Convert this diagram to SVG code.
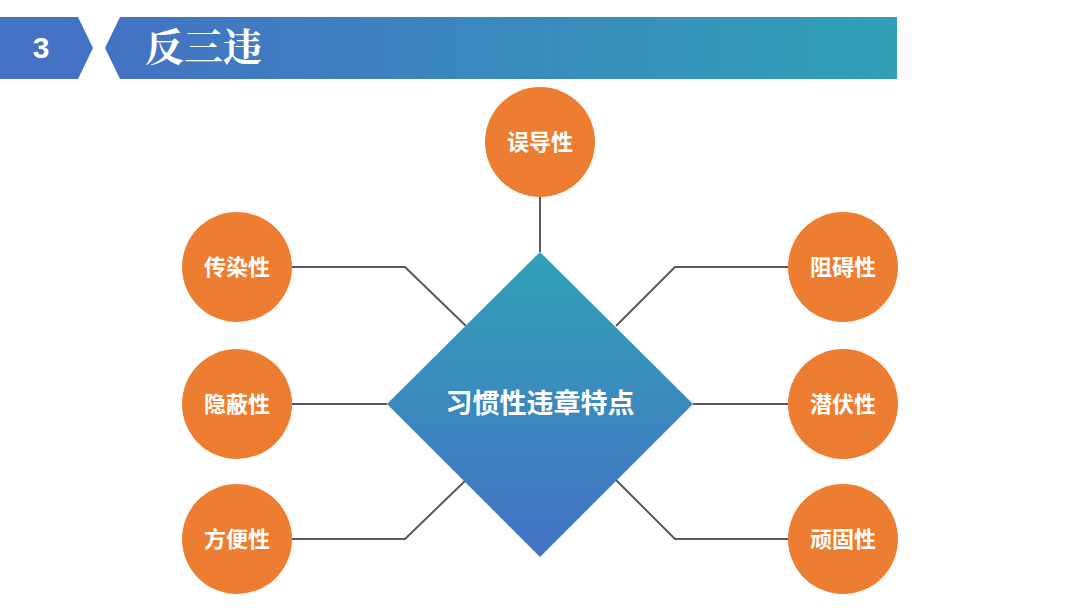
<svg xmlns="http://www.w3.org/2000/svg" width="1080" height="608" viewBox="0 0 1080 608">
<defs>
<linearGradient id="banner" x1="0" y1="0" x2="1" y2="0">
<stop offset="0" stop-color="#4472C4"/>
<stop offset="1" stop-color="#30A0B6"/>
</linearGradient>
<linearGradient id="dia" x1="0" y1="0" x2="0" y2="1">
<stop offset="0" stop-color="#31A1B7"/>
<stop offset="1" stop-color="#4472C4"/>
</linearGradient>
<style>
.c{fill:#ED7D31}
.t{font-family:"Noto Sans CJK SC","Noto Sans",sans-serif;font-weight:bold;font-size:22px;fill:#fff;text-anchor:middle}
.ln{fill:none;stroke:#595959;stroke-width:2}
</style>
</defs>
<rect width="1080" height="608" fill="#fff"/>
<g id="header">
<polygon points="0,17 78,17 93,48 78,79 0,79" fill="#4472C4"/>
<polygon points="120,17 897,17 897,79 120,79 105,48" fill="url(#banner)"/>
<text x="41" y="58" font-family="'Liberation Sans Narrow','Liberation Sans',sans-serif" font-weight="bold" font-size="30" fill="#fff" text-anchor="middle">3</text>
<text x="145" y="61" font-family="'Noto Serif CJK SC','Noto Sans CJK SC',serif" font-weight="bold" font-size="39" fill="#fff">反三违</text>
</g>
<g id="connectors">
<polyline class="ln" points="540,197 540,252"/>
<polyline class="ln" points="292,267 405,267 466,326"/>
<polyline class="ln" points="292,404 387,404"/>
<polyline class="ln" points="292,539 405,539 466,480"/>
<polyline class="ln" points="788,267 675,267 616,326"/>
<polyline class="ln" points="788,404 693,404"/>
<polyline class="ln" points="788,539 675,539 616,480"/>
</g>
<g id="center">
<polygon points="540,252 693,404 540,557 387,404" fill="url(#dia)"/>
<text class="t" x="540" y="413" style="font-size:27px">习惯性违章特点</text>
</g>
<g id="n-top"><circle class="c" cx="540" cy="142" r="55"/><text class="t" x="540" y="150">误导性</text></g>
<g id="n-l1"><circle class="c" cx="237" cy="267" r="55"/><text class="t" x="237" y="275">传染性</text></g>
<g id="n-l2"><circle class="c" cx="237" cy="404" r="55"/><text class="t" x="237" y="412">隐蔽性</text></g>
<g id="n-l3"><circle class="c" cx="237" cy="539" r="55"/><text class="t" x="237" y="547">方便性</text></g>
<g id="n-r1"><circle class="c" cx="843" cy="267" r="55"/><text class="t" x="843" y="275">阻碍性</text></g>
<g id="n-r2"><circle class="c" cx="843" cy="404" r="55"/><text class="t" x="843" y="412">潜伏性</text></g>
<g id="n-r3"><circle class="c" cx="843" cy="539" r="55"/><text class="t" x="843" y="547">顽固性</text></g>
</svg>
